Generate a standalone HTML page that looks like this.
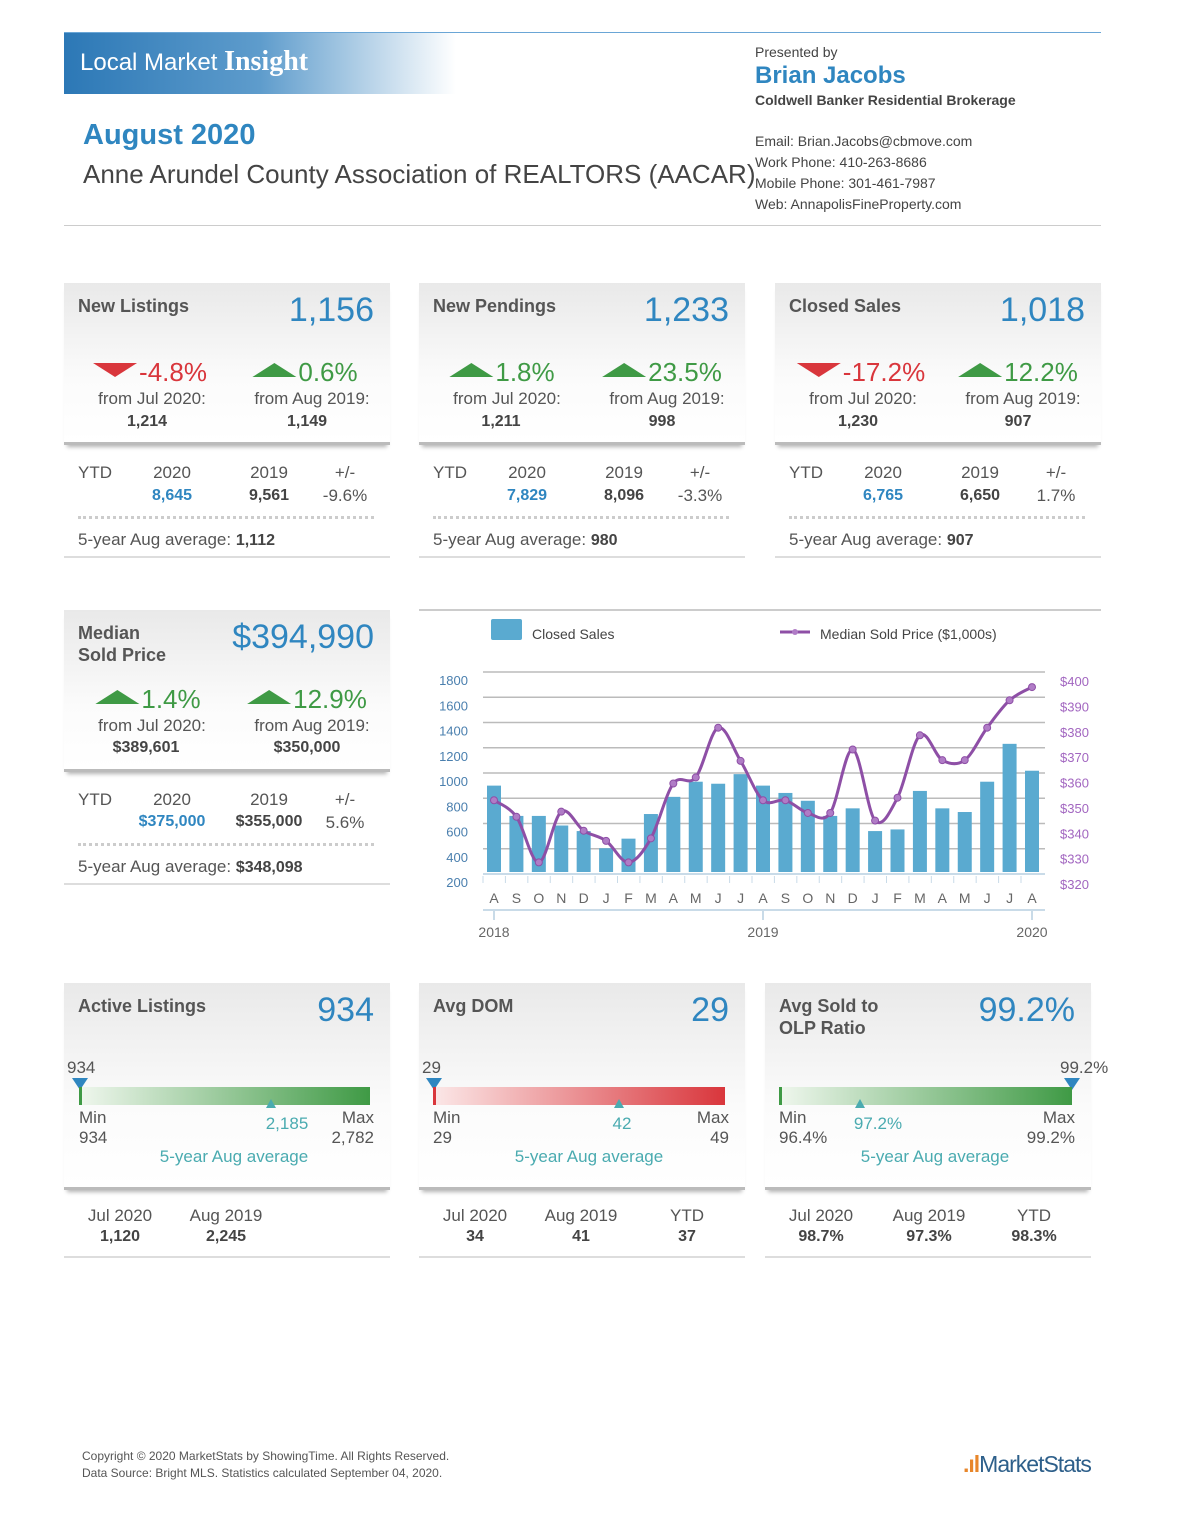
<!DOCTYPE html>
<html><head><meta charset="utf-8">
<style>
*{margin:0;padding:0;box-sizing:border-box}
body{width:1183px;height:1536px;background:#fff;font-family:"Liberation Sans",sans-serif;color:#555;position:relative;overflow:hidden}
.a{position:absolute;white-space:nowrap}
.panel{position:absolute;width:326px;height:276px}
.gray{position:absolute;left:0;top:0;width:100%;background:linear-gradient(#e9e9e9,#fbfbfb 60%,#fff);border-bottom:3px solid #bbb;box-shadow:0 5px 4px -3px rgba(0,0,0,0.3)}
.title{position:absolute;left:14px;top:12px;font-weight:bold;font-size:18px;color:#555;line-height:22px}
.big{position:absolute;right:16px;top:8px;font-size:34px;color:#2f86c0}
.pct{position:absolute;top:74px;font-size:26px;transform:translateX(-50%);white-space:nowrap}
.red{color:#d9363c}.grn{color:#3f9a45}
.up{display:inline-block;width:0;height:0;border-left:22px solid transparent;border-right:22px solid transparent;border-bottom:14px solid #3f9a45;vertical-align:4px;margin-right:2px}
.dn{display:inline-block;width:0;height:0;border-left:22px solid transparent;border-right:22px solid transparent;border-top:14px solid #d9363c;vertical-align:4px;margin-right:2px}
.ctr{position:absolute;transform:translateX(-50%);white-space:nowrap;text-align:center}
.sm{font-size:17px;color:#555}
.bv{font-size:16px;font-weight:bold;color:#444}
.dots{position:absolute;left:14px;right:16px;top:233px;border-top:3px dotted #ccc}
.bline{position:absolute;left:0;right:0;top:273px;border-top:2px solid #ddd}
.blue{color:#2f86c0}
.teal{color:#4aabb0}
</style></head><body>

<div class="a" style="left:64px;top:32px;width:1037px;border-top:1px solid #6aa6d6"></div>
<div class="a" style="left:64px;top:33px;width:392px;height:61px;background:linear-gradient(90deg,#2c78b6,#5e9ccc 50%,#fff)"></div>
<div class="a" style="left:80px;top:46px;font-size:24px;color:#fff">Local Market <b style="font-family:'Liberation Serif',serif;font-size:28px">Insight</b></div>
<div class="a" style="left:83px;top:119px;font-size:29px;font-weight:bold;color:#2f86c0">August 2020</div>
<div class="a" style="left:83px;top:159px;font-size:26px;color:#444">Anne Arundel County Association of REALTORS (AACAR)</div>
<div class="a" style="left:755px;top:44px;font-size:14px;color:#444">Presented by</div>
<div class="a" style="left:755px;top:62px;font-size:24px;font-weight:bold;color:#2f86c0">Brian Jacobs</div>
<div class="a" style="left:755px;top:92px;font-size:14px;font-weight:bold;color:#444">Coldwell Banker Residential Brokerage</div>
<div class="a" style="left:755px;top:131px;font-size:14px;color:#444;line-height:21px">Email: Brian.Jacobs@cbmove.com<br>Work Phone: 410-263-8686<br>Mobile Phone: 301-461-7987<br>Web: AnnapolisFineProperty.com</div>
<div class="a" style="left:64px;top:225px;width:1037px;border-top:1px solid #ccc"></div>

<!-- New Listings -->
<div class="panel" style="left:64px;top:283px">
<div class="gray" style="height:162px"></div>
<div class="title">New Listings</div><div class="big">1,156</div>
<div class="pct red" style="left:86px"><span class="dn"></span>-4.8%</div>
<div class="pct grn" style="left:241px"><span class="up"></span>0.6%</div>
<div class="ctr sm" style="left:88px;top:106px">from Jul 2020:</div><div class="ctr bv" style="left:83px;top:130px">1,214</div>
<div class="ctr sm" style="left:248px;top:106px">from Aug 2019:</div><div class="ctr bv" style="left:243px;top:130px">1,149</div>
<div class="a sm" style="left:14px;top:180px">YTD</div>
<div class="ctr sm" style="left:108px;top:180px">2020</div><div class="ctr sm" style="left:205px;top:180px">2019</div><div class="ctr sm" style="left:281px;top:180px">+/-</div>
<div class="ctr bv blue" style="left:108px;top:204px">8,645</div><div class="ctr bv" style="left:205px;top:204px">9,561</div><div class="ctr sm" style="left:281px;top:203px">-9.6%</div>
<div class="dots"></div>
<div class="a sm" style="left:14px;top:247px">5-year Aug average: <b style="color:#444;font-size:16px">1,112</b></div>
<div class="bline"></div>
</div>

<!-- New Pendings -->
<div class="panel" style="left:419px;top:283px">
<div class="gray" style="height:162px"></div>
<div class="title">New Pendings</div><div class="big">1,233</div>
<div class="pct grn" style="left:83px"><span class="up"></span>1.8%</div>
<div class="pct grn" style="left:243px"><span class="up"></span>23.5%</div>
<div class="ctr sm" style="left:88px;top:106px">from Jul 2020:</div><div class="ctr bv" style="left:82px;top:130px">1,211</div>
<div class="ctr sm" style="left:248px;top:106px">from Aug 2019:</div><div class="ctr bv" style="left:243px;top:130px">998</div>
<div class="a sm" style="left:14px;top:180px">YTD</div>
<div class="ctr sm" style="left:108px;top:180px">2020</div><div class="ctr sm" style="left:205px;top:180px">2019</div><div class="ctr sm" style="left:281px;top:180px">+/-</div>
<div class="ctr bv blue" style="left:108px;top:204px">7,829</div><div class="ctr bv" style="left:205px;top:204px">8,096</div><div class="ctr sm" style="left:281px;top:203px">-3.3%</div>
<div class="dots"></div>
<div class="a sm" style="left:14px;top:247px">5-year Aug average: <b style="color:#444;font-size:16px">980</b></div>
<div class="bline"></div>
</div>

<!-- Closed Sales -->
<div class="panel" style="left:775px;top:283px">
<div class="gray" style="height:162px"></div>
<div class="title">Closed Sales</div><div class="big">1,018</div>
<div class="pct red" style="left:86px"><span class="dn"></span>-17.2%</div>
<div class="pct grn" style="left:243px"><span class="up"></span>12.2%</div>
<div class="ctr sm" style="left:88px;top:106px">from Jul 2020:</div><div class="ctr bv" style="left:83px;top:130px">1,230</div>
<div class="ctr sm" style="left:248px;top:106px">from Aug 2019:</div><div class="ctr bv" style="left:243px;top:130px">907</div>
<div class="a sm" style="left:14px;top:180px">YTD</div>
<div class="ctr sm" style="left:108px;top:180px">2020</div><div class="ctr sm" style="left:205px;top:180px">2019</div><div class="ctr sm" style="left:281px;top:180px">+/-</div>
<div class="ctr bv blue" style="left:108px;top:204px">6,765</div><div class="ctr bv" style="left:205px;top:204px">6,650</div><div class="ctr sm" style="left:281px;top:203px">1.7%</div>
<div class="dots"></div>
<div class="a sm" style="left:14px;top:247px">5-year Aug average: <b style="color:#444;font-size:16px">907</b></div>
<div class="bline"></div>
</div>

<!-- Median -->
<div class="panel" style="left:64px;top:610px">
<div class="gray" style="height:162px"></div>
<div class="title">Median<br>Sold Price</div><div class="big">$394,990</div>
<div class="pct grn" style="left:84px"><span class="up"></span>1.4%</div>
<div class="pct grn" style="left:243px"><span class="up"></span>12.9%</div>
<div class="ctr sm" style="left:88px;top:106px">from Jul 2020:</div><div class="ctr bv" style="left:82px;top:129px">$389,601</div>
<div class="ctr sm" style="left:248px;top:106px">from Aug 2019:</div><div class="ctr bv" style="left:243px;top:129px">$350,000</div>
<div class="a sm" style="left:14px;top:180px">YTD</div>
<div class="ctr sm" style="left:108px;top:180px">2020</div><div class="ctr sm" style="left:205px;top:180px">2019</div><div class="ctr sm" style="left:281px;top:180px">+/-</div>
<div class="ctr bv blue" style="left:108px;top:203px">$375,000</div><div class="ctr bv" style="left:205px;top:203px">$355,000</div><div class="ctr sm" style="left:281px;top:203px">5.6%</div>
<div class="dots"></div>
<div class="a sm" style="left:14px;top:247px">5-year Aug average: <b style="color:#444;font-size:16px">$348,098</b></div>
<div class="bline"></div>
</div>

<!-- Chart -->
<svg class="a" style="left:0;top:0" width="1183" height="960" id="chart">
<line x1="419" y1="610" x2="1101" y2="610" stroke="#ccc" stroke-width="2"/>
<rect x="491" y="619" width="31" height="21" fill="#5aaad0" rx="2"/>
<text x="532" y="639" font-size="14" fill="#444">Closed Sales</text>
<line x1="780" y1="632" x2="810" y2="632" stroke="#8e4fa6" stroke-width="3"/>
<circle cx="795" cy="632" r="3" fill="#b07cc6"/>
<text x="820" y="639" font-size="14" fill="#444">Median Sold Price ($1,000s)</text>
<g id="grid"></g><g id="bars"></g><g id="line"></g><g id="labels"></g>
</svg>

<!-- Active Listings -->
<div class="panel" style="left:64px;top:983px">
<div class="gray" style="height:207px"></div>
<div class="title">Active Listings</div><div class="big">934</div>
<div class="a sm" style="left:3px;top:75px">934</div>
<div class="a" style="left:8px;top:95px;border-left:8px solid transparent;border-right:8px solid transparent;border-top:12px solid #2f86c0"></div>
<div class="a" style="left:15px;top:104px;width:291px;height:18px;background:linear-gradient(90deg,#eef6ec,#3f9a45);border-left:3px solid #3f9a45"></div>
<div class="a" style="left:202px;top:116px;border-left:5px solid transparent;border-right:5px solid transparent;border-bottom:9px solid #4aabb0"></div>
<div class="a sm" style="left:15px;top:125px;line-height:20px">Min<br>934</div>
<div class="a sm" style="right:16px;top:125px;line-height:20px;text-align:right">Max<br>2,782</div>
<div class="ctr sm teal" style="left:223px;top:131px">2,185</div>
<div class="ctr sm teal" style="left:170px;top:164px">5-year Aug average</div>
<div class="ctr sm" style="left:56px;top:223px;line-height:20px">Jul 2020<br><b class="bv">1,120</b></div>
<div class="ctr sm" style="left:162px;top:223px;line-height:20px">Aug 2019<br><b class="bv">2,245</b></div>
<div class="bline"></div>
</div>

<!-- Avg DOM -->
<div class="panel" style="left:419px;top:983px">
<div class="gray" style="height:207px"></div>
<div class="title">Avg DOM</div><div class="big">29</div>
<div class="a sm" style="left:3px;top:75px">29</div>
<div class="a" style="left:7px;top:95px;border-left:8px solid transparent;border-right:8px solid transparent;border-top:12px solid #2f86c0"></div>
<div class="a" style="left:14px;top:104px;width:292px;height:18px;background:linear-gradient(90deg,#fbe6e6,#d9363c);border-left:3px solid #d9363c"></div>
<div class="a" style="left:195px;top:116px;border-left:5px solid transparent;border-right:5px solid transparent;border-bottom:9px solid #4aabb0"></div>
<div class="a sm" style="left:14px;top:125px;line-height:20px">Min<br>29</div>
<div class="a sm" style="right:16px;top:125px;line-height:20px;text-align:right">Max<br>49</div>
<div class="ctr sm teal" style="left:203px;top:131px">42</div>
<div class="ctr sm teal" style="left:170px;top:164px">5-year Aug average</div>
<div class="ctr sm" style="left:56px;top:223px;line-height:20px">Jul 2020<br><b class="bv">34</b></div>
<div class="ctr sm" style="left:162px;top:223px;line-height:20px">Aug 2019<br><b class="bv">41</b></div>
<div class="ctr sm" style="left:268px;top:223px;line-height:20px">YTD<br><b class="bv">37</b></div>
<div class="bline"></div>
</div>

<!-- OLP -->
<div class="panel" style="left:765px;top:983px">
<div class="gray" style="height:207px"></div>
<div class="title">Avg Sold to<br>OLP Ratio</div><div class="big">99.2%</div>
<div class="a sm" style="left:295px;top:75px">99.2%</div>
<div class="a" style="left:299px;top:95px;border-left:8px solid transparent;border-right:8px solid transparent;border-top:12px solid #2f86c0"></div>
<div class="a" style="left:14px;top:104px;width:293px;height:18px;background:linear-gradient(90deg,#eef6ec,#3f9a45);border-left:3px solid #3f9a45"></div>
<div class="a" style="left:90px;top:116px;border-left:5px solid transparent;border-right:5px solid transparent;border-bottom:9px solid #4aabb0"></div>
<div class="a sm" style="left:14px;top:125px;line-height:20px">Min<br>96.4%</div>
<div class="a sm" style="right:16px;top:125px;line-height:20px;text-align:right">Max<br>99.2%</div>
<div class="ctr sm teal" style="left:113px;top:131px">97.2%</div>
<div class="ctr sm teal" style="left:170px;top:164px">5-year Aug average</div>
<div class="ctr sm" style="left:56px;top:223px;line-height:20px">Jul 2020<br><b class="bv">98.7%</b></div>
<div class="ctr sm" style="left:164px;top:223px;line-height:20px">Aug 2019<br><b class="bv">97.3%</b></div>
<div class="ctr sm" style="left:269px;top:223px;line-height:20px">YTD<br><b class="bv">98.3%</b></div>
<div class="bline"></div>
</div>

<div class="a" style="left:82px;top:1448px;font-size:12px;color:#555;line-height:17px">Copyright © 2020 MarketStats by ShowingTime. All Rights Reserved.<br>Data Source: Bright MLS. Statistics calculated September 04, 2020.</div>
<div class="a" style="left:963px;top:1451px;font-size:23px;color:#2d5f8a;letter-spacing:-1px"><span style="color:#e8862a;font-weight:bold">.ıl</span>MarketStats</div>

<script>
const months=["A","S","O","N","D","J","F","M","A","M","J","J","A","S","O","N","D","J","F","M","A","M","J","J","A"];
const closedSales=[900,660,660,584,540,404,480,675,811,931,915,991,900,842,780,660,720,540,553,858,720,691,931,1231,1018];
const medianPrice=[353,346.5,328.5,348.5,341,337,328.5,338,359.6,362,381.6,368.5,353,353,348,348,373,345,354,378.6,368.8,368.8,381.6,392.4,397.6];
const leftTicks=[200,400,600,800,1000,1200,1400,1600,1800];
const rightTicks=[320,330,340,350,360,370,380,390,400];
const years=["2018","2019","2020"];
const NS="http://www.w3.org/2000/svg";
const xPos=i=>494+i*(1032-494)/(months.length-1);
const yL=v=>874-(v-200)/1600*202;
const yR=p=>884-(p-320)/80*203;
function mk(tag,attrs,parent,text){const e=document.createElementNS(NS,tag);for(const k in attrs)e.setAttribute(k,attrs[k]);if(text!==undefined)e.textContent=text;document.getElementById(parent).appendChild(e);return e;}
leftTicks.forEach(t=>{
  const g=mk('line',{x1:483,x2:1045,y1:yL(t),y2:yL(t),stroke:t===200?'#c9dbe8':'#bbb','stroke-width':t===200?2:1.5},'grid');
  
  
  const l=mk('text',{x:468,y:yL(t)+13,'text-anchor':'end','font-size':13,fill:'#4a7fae'},'labels',t);
  
  
});
rightTicks.forEach(t=>{
  const l=mk('text',{x:1060,y:yR(t)+5,'font-size':13,fill:'#a266c0'},'labels','$'+t);
  
  
});
closedSales.forEach((v,i)=>{
  const b=mk('rect',{x:xPos(i)-7,y:yL(v),width:14,height:yL(200)-yL(v)-2,fill:'#5aaad0'},'bars');
  
  
});
months.forEach((m,i)=>{
  const t=mk('text',{x:xPos(i),y:903,'text-anchor':'middle','font-size':14,fill:'#666'},'labels',m);
  
  
  mk('line',{x1:xPos(i)-11,x2:xPos(i)-11,y1:876,y2:883,stroke:'#c9dbe8'},'grid');
});
mk('line',{x1:483,x2:1045,y1:910,y2:910,stroke:'#c9dbe8','stroke-width':2},'grid');
years.forEach((y,k)=>{
  const idx=k*12;
  mk('line',{x1:xPos(idx),x2:xPos(idx),y1:910,y2:920,stroke:'#c9dbe8','stroke-width':2},'grid');
  const t=mk('text',{x:xPos(idx),y:937,'text-anchor':'middle','font-size':14,fill:'#666'},'labels',y);
  
  
});
const pts=medianPrice.map((p,i)=>[xPos(i),yR(p)]);
let d='M'+pts[0][0]+','+pts[0][1];
for(let i=0;i<pts.length-1;i++){
  const p0=pts[Math.max(0,i-1)],p1=pts[i],p2=pts[i+1],p3=pts[Math.min(pts.length-1,i+2)];
  const c1=[p1[0]+(p2[0]-p0[0])/6,p1[1]+(p2[1]-p0[1])/6],c2=[p2[0]-(p3[0]-p1[0])/6,p2[1]-(p3[1]-p1[1])/6];
  d+=` C${c1[0]},${c1[1]} ${c2[0]},${c2[1]} ${p2[0]},${p2[1]}`;
}
const path=mk('path',{d:d,fill:'none',stroke:'#8e4fa6','stroke-width':3},'line');


pts.forEach(p=>{
  const c=mk('circle',{cx:p[0],cy:p[1],r:3.5,fill:'#b07cc6',stroke:'#8e4fa6','stroke-width':1},'line');
  
  
});
</script>
</body></html>
